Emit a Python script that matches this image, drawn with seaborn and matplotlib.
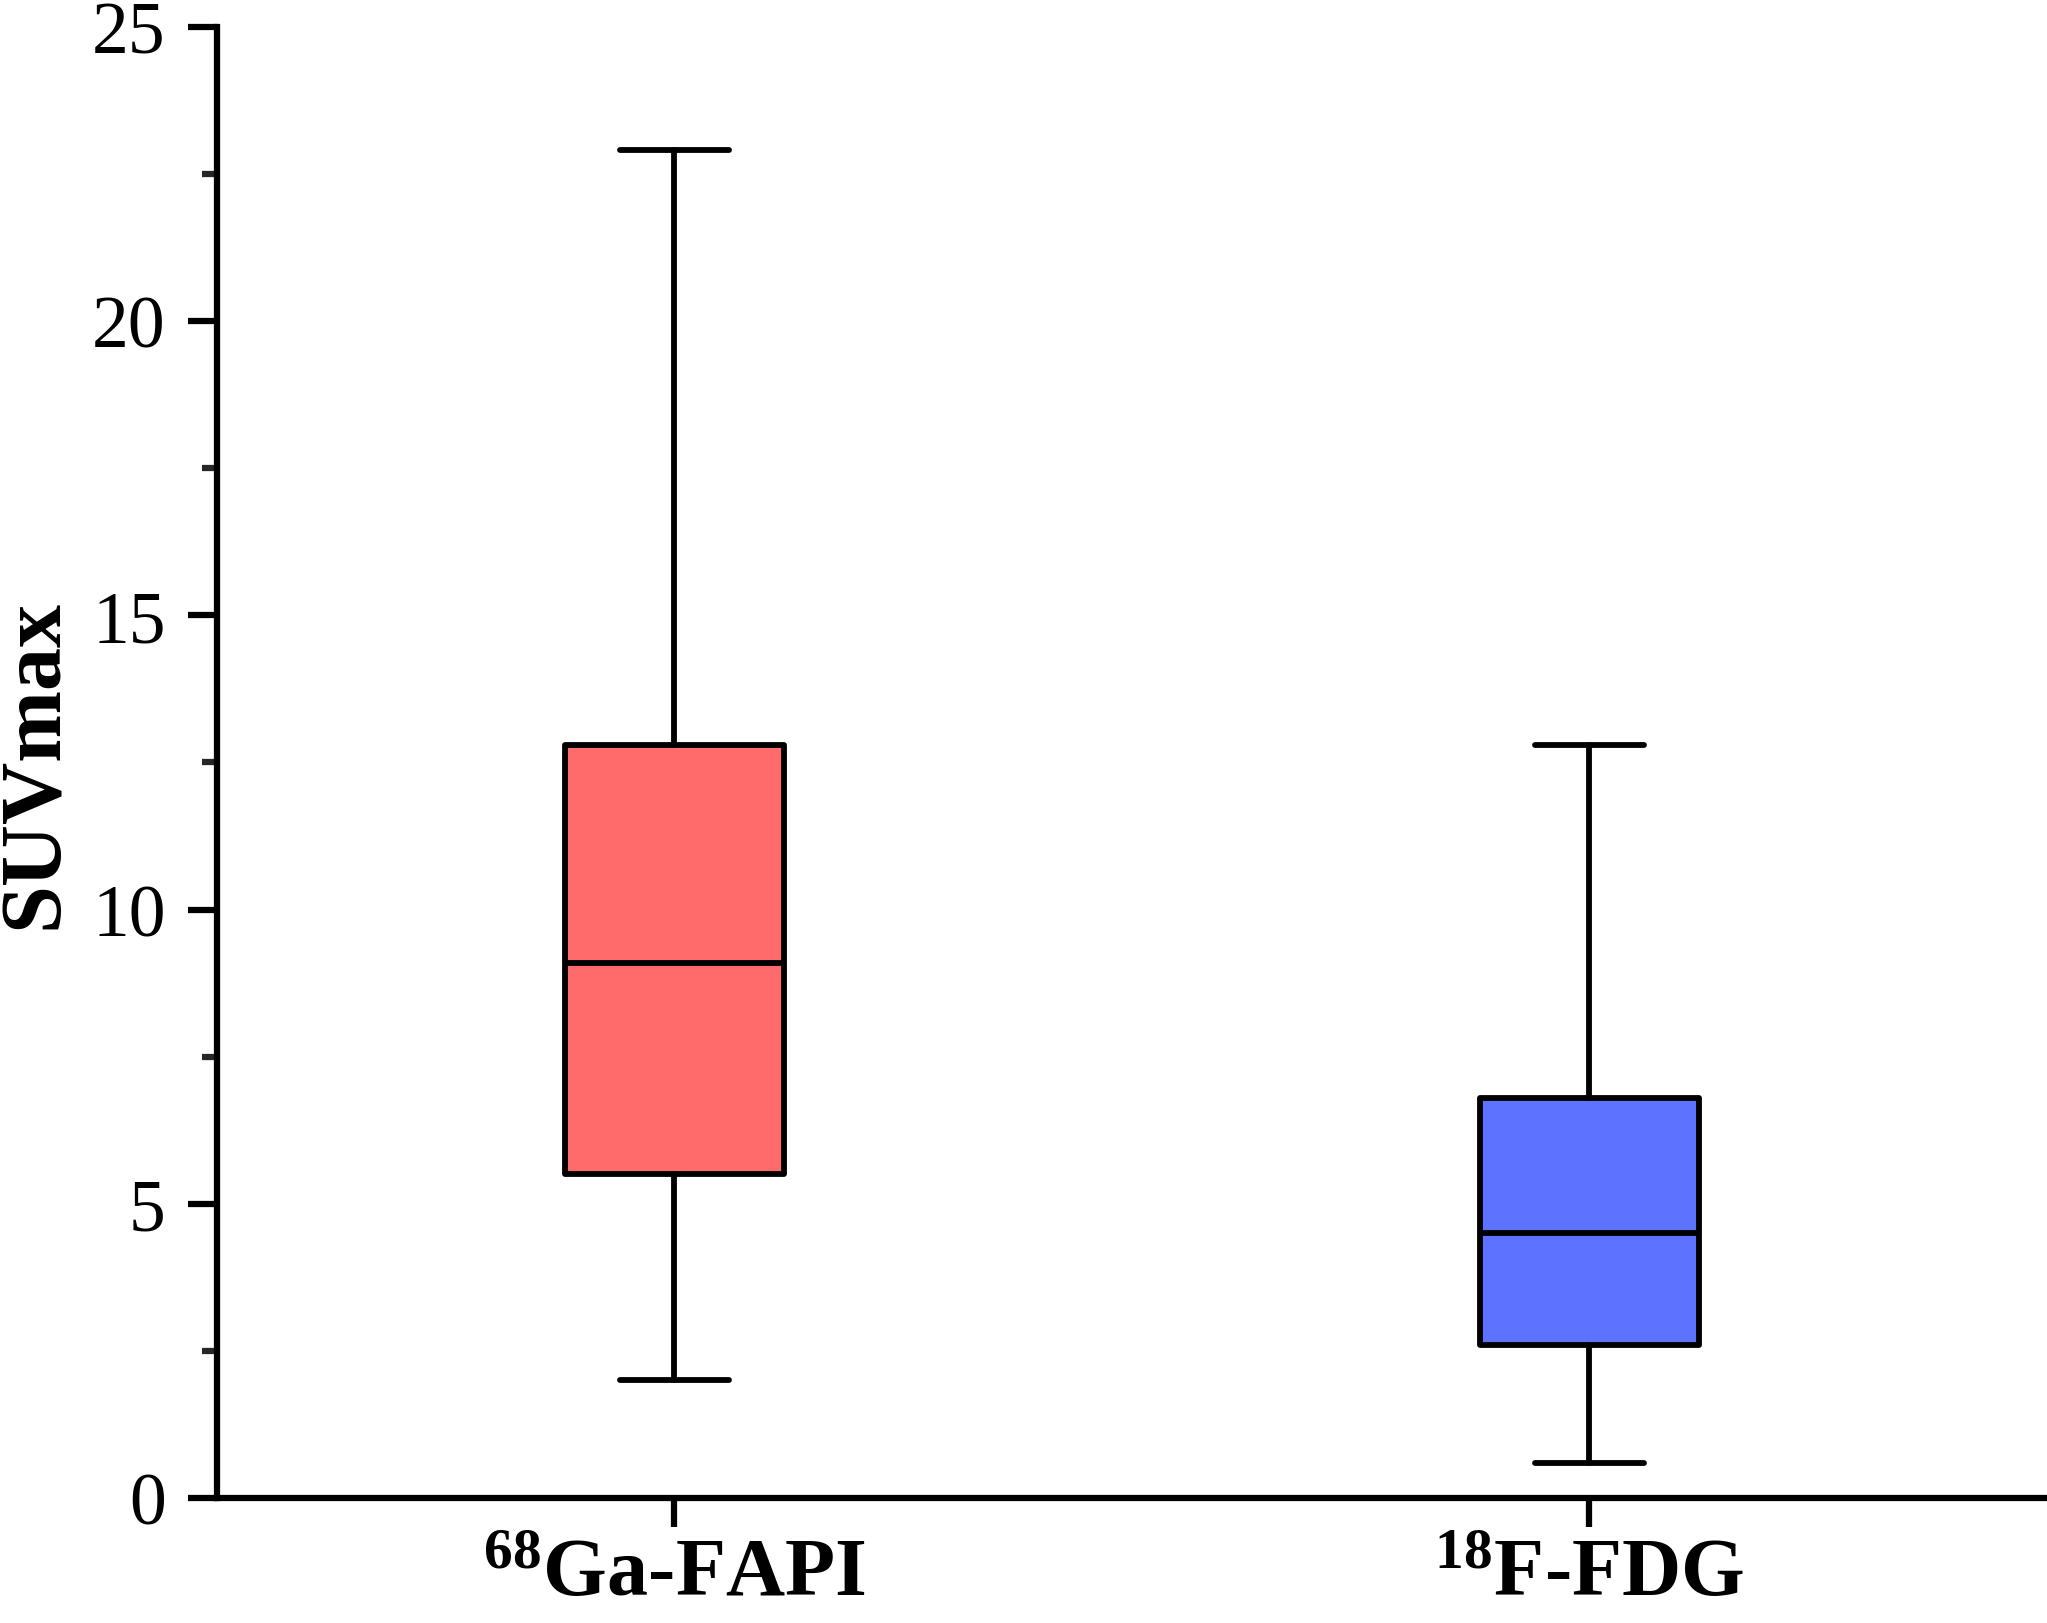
import numpy as np
import pandas as pd
import matplotlib
matplotlib.use("Agg")
import matplotlib.pyplot as plt
import seaborn as sns
from matplotlib.ticker import MultipleLocator

# Data: five-number summaries (min, Q1, median, Q3, max)
categories = ["$^{68}$Ga-FAPI", "$^{18}$F-FDG"]
fapi_values = [2.0, 5.5, 9.1, 12.8, 22.9]
fdg_values = [0.6, 2.6, 4.5, 6.8, 12.8]
box_colors = ["#FF6B6B", "#5B73FF"]
y_ticks = [0, 5, 10, 15, 20, 25]

df = pd.DataFrame({
    "group": [categories[0]] * len(fapi_values) + [categories[1]] * len(fdg_values),
    "SUVmax": fapi_values + fdg_values,
})

sns.set_theme(style="ticks")
plt.rcParams["font.family"] = ["Liberation Serif", "DejaVu Serif"]
plt.rcParams["mathtext.fontset"] = "custom"
plt.rcParams["mathtext.rm"] = "Liberation Serif:bold"
plt.rcParams["mathtext.bf"] = "Liberation Serif:bold"
plt.rcParams["mathtext.it"] = "Liberation Serif:bold"
plt.rcParams["mathtext.default"] = "rm"

fig = plt.figure(figsize=(20.47, 16.24), dpi=100)
ax = fig.add_axes([0.106, 0.077, 0.894, 0.9058])

lw_box = 4.2
lw_axis = 4.5
sns.boxplot(
    data=df, x="group", y="SUVmax", hue="group", palette=box_colors,
    order=categories, hue_order=categories, legend=False,
    width=0.24, whis=(0, 100), saturation=1, linecolor="black", linewidth=lw_box,
    showfliers=False, ax=ax,
    boxprops=dict(joinstyle="round"),
    whiskerprops=dict(solid_capstyle="round"),
    capprops=dict(solid_capstyle="round"),
    medianprops=dict(solid_capstyle="butt"),
)

ax.set_xlim(-0.5, 1.5)
ax.set_ylim(0, 25)
ax.set_yticks(y_ticks)
ax.yaxis.set_minor_locator(MultipleLocator(2.5))

for side in ["top", "right"]:
    ax.spines[side].set_visible(False)
for side in ["left", "bottom"]:
    ax.spines[side].set_linewidth(lw_axis)
    ax.spines[side].set_color("black")

ax.tick_params(axis="y", which="major", direction="out", length=21, width=lw_axis,
               labelsize=53, pad=16, colors="black")
ax.tick_params(axis="y", which="minor", direction="out", length=11, width=lw_axis)
ax.tick_params(axis="x", which="major", direction="out", length=21, width=lw_axis,
               labelsize=59, pad=8, colors="black")
for lbl in ax.get_xticklabels():
    lbl.set_fontweight("bold")

ax.set_xlabel("")
ax.set_ylabel("SUVmax", fontsize=62, fontweight="bold", color="black")
ax.yaxis.set_label_coords(-0.077, 0.5)

fig.savefig("out.png", dpi=100)
